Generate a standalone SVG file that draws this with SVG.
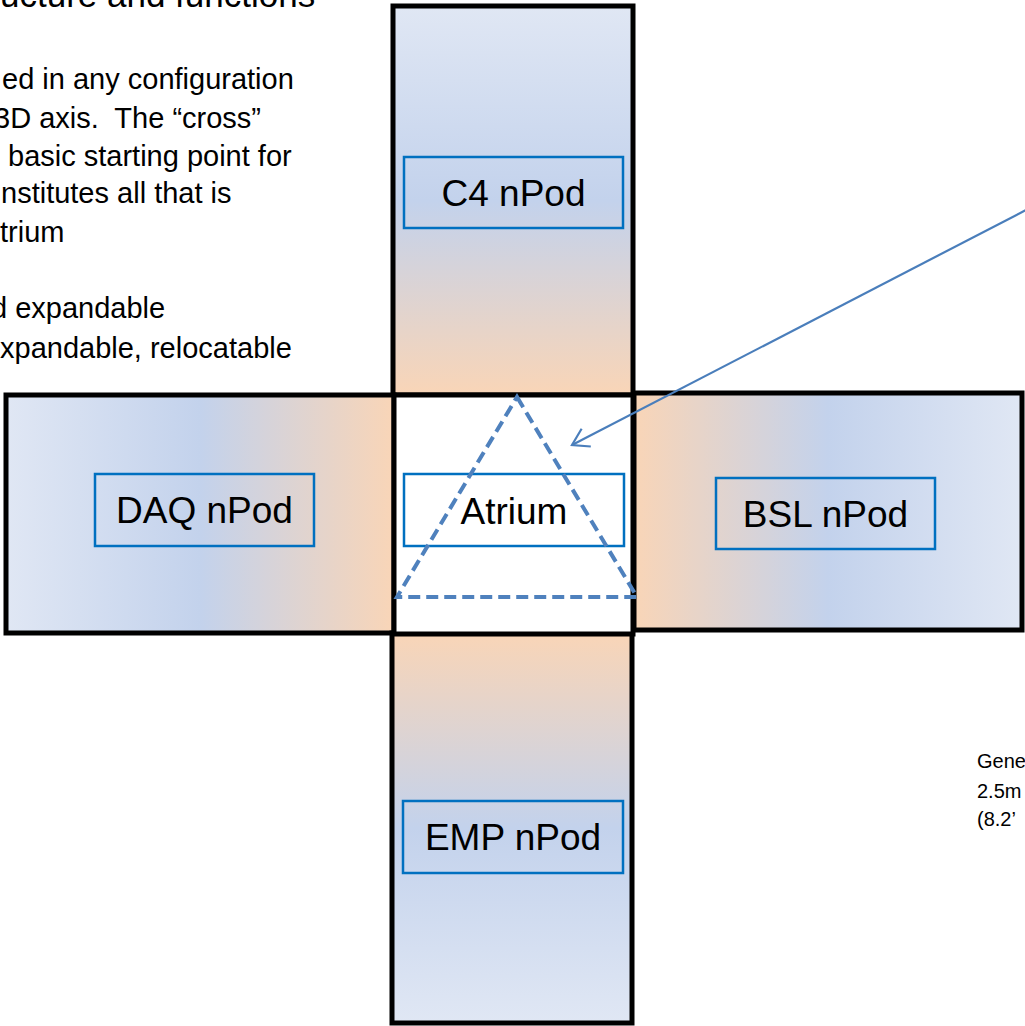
<svg xmlns="http://www.w3.org/2000/svg" width="1025" height="1026" viewBox="0 0 1025 1026">
  <style>
    .arm { stroke: #000000; stroke-width: 5; }
    .hub { fill: #ffffff; stroke: #000000; stroke-width: 5; }
    .label-box { fill: none; stroke: #0070c0; stroke-width: 2.5; }
    .label { font-family: "Liberation Sans", Arial, sans-serif; font-size: 37px; fill: #000000; text-anchor: middle; }
    .body { font-family: "Liberation Sans", Arial, sans-serif; font-size: 29px; fill: #000000; white-space: pre; }
    .note { font-family: "Liberation Sans", Arial, sans-serif; font-size: 20px; fill: #000000; }
    .title { font-family: "Liberation Sans", Arial, sans-serif; font-size: 35px; fill: #000000; }
    .zone { fill: none; stroke: #4f81bd; stroke-width: 4; stroke-dasharray: 12 6; }
    .pointer { fill: none; stroke: #4a7ebb; stroke-width: 2.2; }
  </style>
  <defs>
    <!-- pod fills: pale blue at the outer end, blue midway, peach at the hub -->
    <linearGradient id="fillDown" x1="0" y1="0" x2="0" y2="1">
      <stop offset="0" stop-color="#e0e7f4"/>
      <stop offset="0.5" stop-color="#c3d2ec"/>
      <stop offset="1" stop-color="#f9d5b7"/>
    </linearGradient>
    <linearGradient id="fillUp" x1="0" y1="0" x2="0" y2="1">
      <stop offset="0" stop-color="#f9d5b7"/>
      <stop offset="0.5" stop-color="#c3d2ec"/>
      <stop offset="1" stop-color="#e0e7f4"/>
    </linearGradient>
    <linearGradient id="fillRight" x1="0" y1="0" x2="1" y2="0">
      <stop offset="0" stop-color="#e0e7f4"/>
      <stop offset="0.5" stop-color="#c3d2ec"/>
      <stop offset="1" stop-color="#f9d5b7"/>
    </linearGradient>
    <linearGradient id="fillLeft" x1="0" y1="0" x2="1" y2="0">
      <stop offset="0" stop-color="#f9d5b7"/>
      <stop offset="0.5" stop-color="#c3d2ec"/>
      <stop offset="1" stop-color="#e0e7f4"/>
    </linearGradient>
    <marker id="openHead" markerUnits="userSpaceOnUse" markerWidth="24" markerHeight="24" viewBox="-20 -12 24 24" refX="0" refY="0" orient="auto">
      <path d="M-16,-10 L0,0 L-16,10" fill="none" stroke="#4a7ebb" stroke-width="2.2"/>
    </marker>
  </defs>

  <!-- partly visible heading and description -->
  <text class="title" x="0" y="7">ucture and functions</text>
  <g id="description">
    <text class="body" x="2" y="89">ed in any configuration</text>
    <text class="body" x="-6" y="128">3D axis.  The “cross”</text>
    <text class="body" x="8" y="166">basic starting point for</text>
    <text class="body" x="1" y="203">nstitutes all that is</text>
    <text class="body" x="0" y="242">trium</text>
    <text class="body" x="-9" y="318">d expandable</text>
    <text class="body" x="0" y="358">xpandable, relocatable</text>
  </g>

  <g id="pod-c4">
    <rect class="arm" x="393" y="6" width="240" height="389" fill="url(#fillDown)"/>
    <rect class="label-box" x="404" y="157" width="219" height="71"/>
    <text class="label" x="513.5" y="206">C4 nPod</text>
  </g>

  <g id="pod-daq">
    <rect class="arm" x="6" y="395" width="388" height="238" fill="url(#fillRight)"/>
    <rect class="label-box" x="95" y="474" width="219" height="72"/>
    <text class="label" x="204.5" y="523">DAQ nPod</text>
  </g>

  <g id="pod-bsl">
    <rect class="arm" x="634" y="393" width="388" height="237" fill="url(#fillLeft)"/>
    <rect class="label-box" x="716" y="478" width="219" height="71"/>
    <text class="label" x="825.5" y="527">BSL nPod</text>
  </g>

  <g id="pod-emp">
    <rect class="arm" x="392" y="633" width="240" height="390" fill="url(#fillUp)"/>
    <rect class="label-box" x="403" y="801" width="220" height="72"/>
    <text class="label" x="513" y="850">EMP nPod</text>
  </g>

  <g id="atrium">
    <rect class="hub" x="394" y="395" width="239" height="239"/>
    <rect class="label-box" x="404" y="474" width="220" height="72"/>
    <text class="label" x="514" y="524">Atrium</text>
  </g>

  <!-- dashed triangle inside the hub -->
  <g id="atrium-zone">
    <polygon class="zone" points="517,397 637,597 397,597"/>
  </g>

  <g id="connectors">
    <line class="pointer" x1="1026" y1="210" x2="572" y2="445" marker-end="url(#openHead)"/>
  </g>

  <g id="dimension-note">
    <text class="note" x="977" y="768">Gene</text>
    <text class="note" x="977" y="798">2.5m</text>
    <text class="note" x="977" y="826">(8.2’</text>
  </g>
</svg>
